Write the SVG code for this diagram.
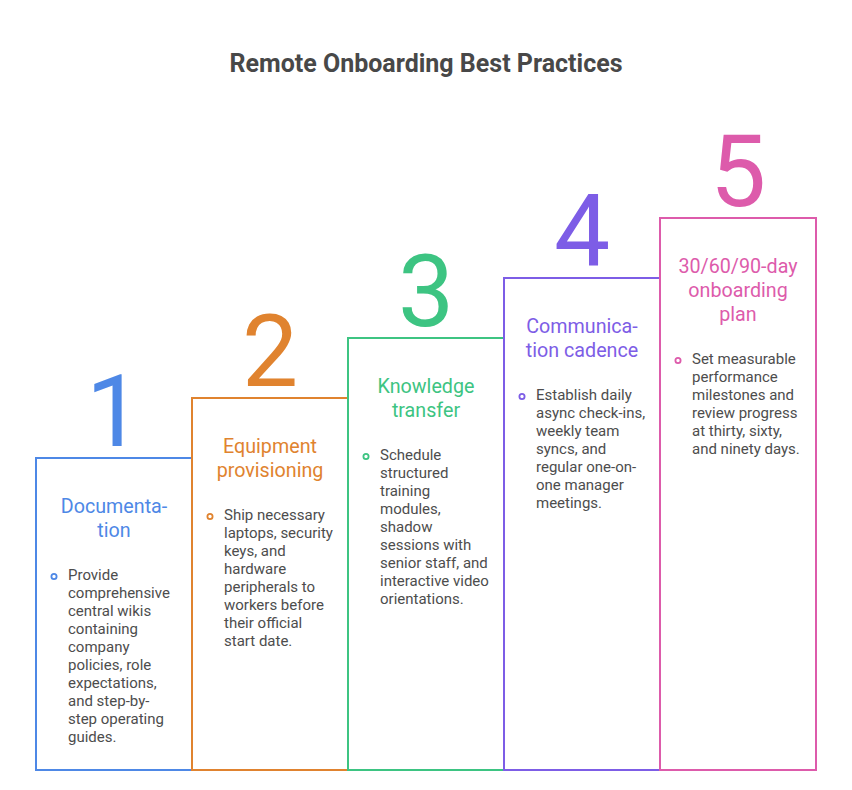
<svg xmlns="http://www.w3.org/2000/svg" width="852" height="790" viewBox="0 0 852 790">
<style>
text{font-family:Roboto,"Liberation Sans",sans-serif}
.title{font-size:25px;font-weight:700;fill:#484848;text-anchor:middle}
.num{font-size:100px;text-anchor:middle}
.head{font-size:19.7px;text-anchor:middle}
.body{font-size:15px;fill:#4d4d4d}
.box{fill:none;stroke-width:2}
.dot{fill:none;stroke-width:1.8}
.c1{fill:#4E88E6}.s1{stroke:#4E88E6}
.c2{fill:#E0832F}.s2{stroke:#E0832F}
.c3{fill:#3DC482}.s3{stroke:#3DC482}
.c4{fill:#7D5DE6}.s4{stroke:#7D5DE6}
.c5{fill:#DD5BAB}.s5{stroke:#DD5BAB}
</style>
<rect width="852" height="790" fill="#ffffff"/>
<text class="title" x="426" y="72">Remote Onboarding Best Practices</text>
<g id="step1">
<rect class="box s1" x="36" y="458" width="156" height="312"/>
<text class="num c1" x="114" y="446">1</text>
<text class="head c1" x="114" y="513">Documenta-</text>
<text class="head c1" x="114" y="537">tion</text>
<circle class="dot s1" cx="54" cy="576.5" r="2.6"/>
<text class="body"><tspan x="68" y="580">Provide</tspan><tspan x="68" y="598">comprehensive</tspan><tspan x="68" y="616">central wikis</tspan><tspan x="68" y="634">containing</tspan><tspan x="68" y="652">company</tspan><tspan x="68" y="670">policies, role</tspan><tspan x="68" y="688">expectations,</tspan><tspan x="68" y="706">and step-by-</tspan><tspan x="68" y="724">step operating</tspan><tspan x="68" y="742">guides.</tspan></text>
</g>
<g id="step2">
<rect class="box s2" x="192" y="398" width="156" height="372"/>
<text class="num c2" x="270" y="386">2</text>
<text class="head c2" x="270" y="453">Equipment</text>
<text class="head c2" x="270" y="477">provisioning</text>
<circle class="dot s2" cx="210" cy="516.5" r="2.6"/>
<text class="body"><tspan x="224" y="520">Ship necessary</tspan><tspan x="224" y="538">laptops, security</tspan><tspan x="224" y="556">keys, and</tspan><tspan x="224" y="574">hardware</tspan><tspan x="224" y="592">peripherals to</tspan><tspan x="224" y="610">workers before</tspan><tspan x="224" y="628">their official</tspan><tspan x="224" y="646">start date.</tspan></text>
</g>
<g id="step3">
<rect class="box s3" x="348" y="338" width="156" height="432"/>
<text class="num c3" x="426" y="326">3</text>
<text class="head c3" x="426" y="393">Knowledge</text>
<text class="head c3" x="426" y="417">transfer</text>
<circle class="dot s3" cx="366" cy="456.5" r="2.6"/>
<text class="body"><tspan x="380" y="460">Schedule</tspan><tspan x="380" y="478">structured</tspan><tspan x="380" y="496">training</tspan><tspan x="380" y="514">modules,</tspan><tspan x="380" y="532">shadow</tspan><tspan x="380" y="550">sessions with</tspan><tspan x="380" y="568">senior staff, and</tspan><tspan x="380" y="586">interactive video</tspan><tspan x="380" y="604">orientations.</tspan></text>
</g>
<g id="step4">
<rect class="box s4" x="504" y="278" width="156" height="492"/>
<text class="num c4" x="582" y="266">4</text>
<text class="head c4" x="582" y="333">Communica-</text>
<text class="head c4" x="582" y="357">tion cadence</text>
<circle class="dot s4" cx="522" cy="396.5" r="2.6"/>
<text class="body"><tspan x="536" y="400">Establish daily</tspan><tspan x="536" y="418">async check-ins,</tspan><tspan x="536" y="436">weekly team</tspan><tspan x="536" y="454">syncs, and</tspan><tspan x="536" y="472">regular one-on-</tspan><tspan x="536" y="490">one manager</tspan><tspan x="536" y="508">meetings.</tspan></text>
</g>
<g id="step5">
<rect class="box s5" x="660" y="218" width="156" height="552"/>
<text class="num c5" x="738" y="206">5</text>
<text class="head c5" x="738" y="273">30/60/90-day</text>
<text class="head c5" x="738" y="297">onboarding</text>
<text class="head c5" x="738" y="321">plan</text>
<circle class="dot s5" cx="678" cy="360.5" r="2.6"/>
<text class="body"><tspan x="692" y="364">Set measurable</tspan><tspan x="692" y="382">performance</tspan><tspan x="692" y="400">milestones and</tspan><tspan x="692" y="418">review progress</tspan><tspan x="692" y="436">at thirty, sixty,</tspan><tspan x="692" y="454">and ninety days.</tspan></text>
</g>
<g id="connectors"></g>
</svg>
